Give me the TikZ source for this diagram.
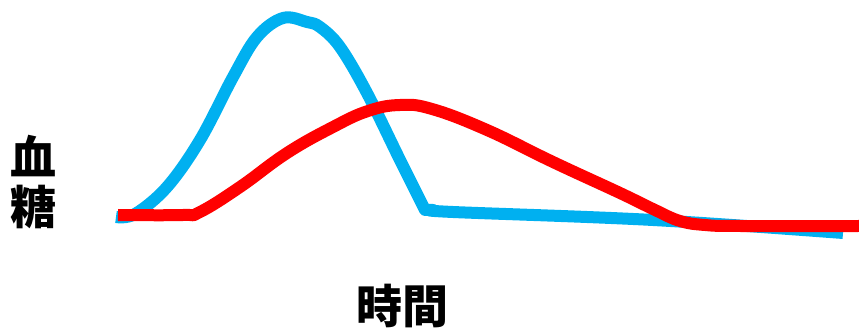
\documentclass[tikz,border=0pt]{standalone}
\usepackage{fontspec}
\newfontfamily\cjk{Noto Sans CJK JP}
\definecolor{sugarBlue}{RGB}{0,176,240}
\definecolor{sugarRed}{RGB}{255,0,0}
\begin{document}
\begin{tikzpicture}
[x=1pt,y=-1pt,
  curveBlue/.style={line width=12pt,color=sugarBlue,line join=round},%
  curveRed/.style={line width=12pt,color=sugarRed,line join=round},%
  labelDecorate/.style={font=\cjk\bfseries\fontsize{46}{50}\selectfont,inner sep=0pt,align=center}]
\useasboundingbox (0,0) rectangle (859,328);
%% axis labels
\node (sugar) at (33,182) [labelDecorate] {血\\糖};
\node (time) at (402,306) [labelDecorate] {時間};
%% curves
\draw [curveBlue] plot[smooth,tension=0.6] coordinates {
  (116,217) (135,214) (167,187) (200,140) (233,77) (257,37) (283,18)
  (307,22) (320,27) (340,47) (367,93) (400,160) (425,210)}
  -- plot[smooth,tension=0.6] coordinates {
  (433,210) (453,212) (653,220) (843,233)};
\draw [curveRed] plot[smooth,tension=0.7] coordinates {
  (118,215) (183,215) (200,212) (240,187) (287,153) (333,127) (368,111)
  (400,105) (432,109) (487,130) (553,162) (620,193) (655,210) (680,221)
  (705,225) (740,226) (859,226)};
\end{tikzpicture}
\end{document}
